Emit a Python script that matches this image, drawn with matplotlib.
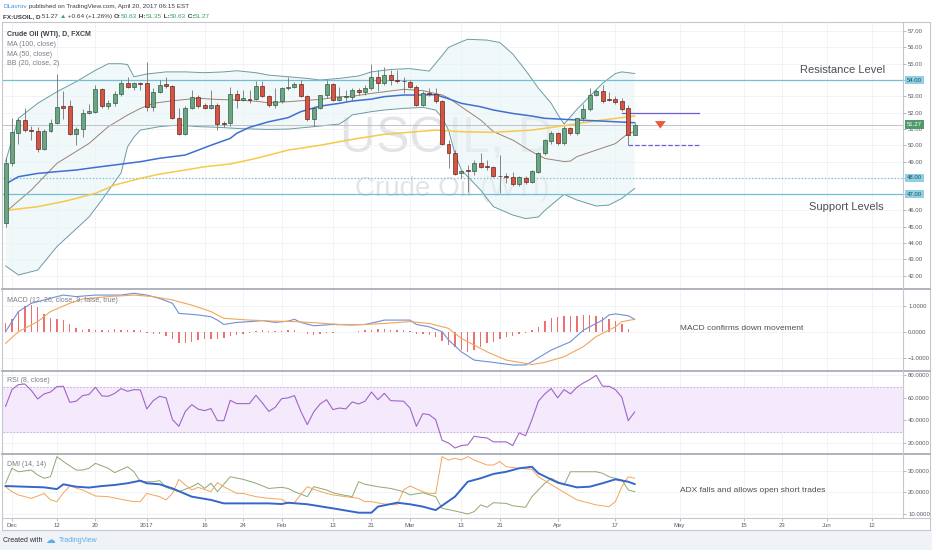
import numpy as np
import matplotlib.pyplot as plt
from matplotlib.lines import Line2D
from matplotlib.patches import Rectangle

plt.rcParams['font.family'] = ['Liberation Sans', 'DejaVu Sans']

W, H = 932, 550

# === Daily candles FX:USOIL, Nov 30 2016 -> Apr 20 2017 (bar index 0..98) ===
opens = [45.20, 48.90, 50.77, 51.55, 50.93, 50.87, 49.75, 50.90, 51.34, 52.40,
         52.40, 50.70, 51.00, 51.96, 52.06, 53.43, 52.40, 52.57, 53.14, 53.80,
         53.60, 53.80, 53.80, 52.36, 53.28, 53.73, 53.63, 51.70, 50.70, 52.28,
         52.98, 52.45, 52.30, 52.45, 51.34, 51.34, 53.14, 52.77, 52.80, 52.83,
         53.63, 53.04, 52.47, 52.73, 53.49, 53.60, 53.75, 53.04, 51.60, 52.30,
         53.06, 53.73, 52.77, 52.95, 52.98, 53.39, 53.28, 53.49, 54.16, 53.80,
         54.30, 54.00, 53.97, 53.90, 53.60, 52.47, 53.20, 53.12, 52.73, 50.10,
         49.54, 48.27, 48.48, 48.44, 48.93, 48.72, 48.64, 48.12, 48.10, 48.07,
         47.62, 48.01, 47.76, 48.38, 49.54, 50.28, 50.73, 50.16, 51.04, 50.73,
         51.65, 52.22, 53.08, 53.30, 52.85, 52.85, 52.70, 52.26, 50.63]
highs = [49.30, 51.70, 51.70, 52.30, 51.20, 51.10, 51.00, 51.60, 54.40, 53.35,
         52.80, 51.10, 52.20, 52.50, 53.70, 53.50, 52.80, 53.30, 54.00, 54.20,
         53.90, 53.90, 55.10, 53.50, 54.00, 54.20, 53.70, 52.30, 52.40, 53.40,
         53.10, 52.60, 53.40, 52.60, 51.50, 53.55, 53.40, 53.40, 53.40, 53.95,
         53.95, 53.10, 53.50, 53.60, 54.20, 53.90, 54.00, 53.10, 52.40, 53.10,
         54.00, 53.80, 53.60, 53.40, 53.50, 53.50, 53.70, 55.00, 54.60, 54.80,
         54.60, 54.60, 54.20, 54.00, 53.70, 53.30, 53.50, 53.50, 52.80, 50.30,
         49.70, 48.45, 48.80, 49.10, 49.55, 49.10, 48.70, 49.40, 48.30, 48.38,
         48.10, 48.10, 48.50, 49.60, 50.40, 50.90, 50.80, 51.20, 51.10, 51.70,
         52.50, 53.50, 53.45, 53.70, 53.25, 53.00, 52.90, 52.45, 51.35]
lows = [45.00, 48.70, 50.10, 50.80, 50.30, 49.60, 49.70, 50.80, 51.30, 51.60,
        50.60, 50.00, 50.50, 51.90, 52.00, 52.30, 52.20, 52.40, 53.00, 53.50,
        53.40, 53.40, 52.10, 52.10, 53.20, 53.50, 51.60, 50.60, 50.60, 52.20,
        52.30, 52.20, 52.20, 50.95, 51.10, 51.20, 52.26, 52.70, 52.60, 52.75,
        52.95, 52.35, 52.26, 52.60, 53.40, 53.50, 52.95, 51.50, 51.20, 52.20,
        52.90, 52.70, 52.70, 52.70, 52.70, 53.10, 53.10, 53.40, 53.30, 53.70,
        53.70, 53.80, 53.20, 53.50, 52.40, 52.40, 53.00, 52.60, 50.00, 48.58,
        48.20, 48.00, 47.15, 48.20, 48.60, 48.50, 48.05, 47.05, 47.70, 47.50,
        47.50, 47.60, 47.70, 48.30, 49.40, 50.10, 50.00, 50.00, 50.60, 50.60,
        51.50, 52.10, 53.00, 52.60, 52.70, 52.55, 52.10, 50.00, 50.63]
closes = [48.93, 50.83, 51.55, 50.93, 50.85, 49.75, 50.87, 51.34, 52.36, 52.30,
          50.70, 51.00, 51.96, 52.10, 53.43, 52.40, 52.57, 53.14, 53.80, 53.60,
          53.80, 53.73, 52.36, 53.28, 53.70, 53.65, 51.70, 50.70, 52.28, 52.98,
          52.40, 52.30, 52.45, 51.30, 51.30, 53.14, 52.77, 52.87, 52.77, 53.63,
          53.04, 52.47, 52.73, 53.49, 53.60, 53.75, 53.04, 51.60, 52.30, 53.06,
          53.73, 52.77, 52.94, 52.98, 53.39, 53.28, 53.49, 54.16, 53.80, 54.30,
          54.00, 53.97, 53.92, 53.59, 52.47, 53.18, 53.15, 52.73, 50.10, 49.54,
          48.25, 48.40, 48.40, 48.93, 48.68, 48.64, 48.11, 48.10, 48.05, 47.62,
          48.03, 47.76, 48.42, 49.54, 50.32, 50.73, 50.16, 51.04, 50.73, 51.65,
          52.20, 53.08, 53.30, 52.73, 52.80, 52.65, 52.20, 50.63, 51.27]

# overlays (bar index, value)
ma50_i = [0, 2, 5, 8, 11, 14, 17, 19, 21, 24, 28, 30, 32, 35, 36, 38, 41, 44, 46, 49,
          52, 54, 57, 59, 62, 64, 67, 69, 71, 74, 76, 79, 82, 84, 87, 90, 92, 95, 98]
ma50_v = [47.62, 48.07, 48.27, 48.38, 48.48, 48.64, 48.79, 48.89, 48.99, 49.20, 49.40,
          49.70, 50.00, 50.42, 50.73, 51.10, 51.44, 51.69, 52.06, 52.40, 52.57, 52.71,
          52.83, 52.98, 53.08, 53.08, 53.10, 52.85, 52.57, 52.36, 52.16, 51.95, 51.79,
          51.65, 51.59, 51.53, 51.50, 51.44, 51.38]
ma100_i = [0, 5, 9, 14, 17, 21, 24, 28, 31, 35, 39, 44, 49, 54, 59, 64, 67, 71, 76,
           82, 87, 92, 98]
ma100_v = [46.00, 46.23, 46.54, 47.05, 47.56, 47.97, 48.23, 48.48, 48.68, 48.85, 49.19,
           49.70, 50.00, 50.36, 50.67, 50.83, 50.93, 50.83, 50.79, 50.93, 51.20, 51.50,
           51.79]
bbu_i = [0, 2, 5, 8, 11, 14, 16, 18, 19, 20, 22, 25, 28, 31, 34, 36, 39, 41, 44, 47,
         49, 52, 55, 57, 60, 63, 66, 68, 69, 71, 72, 75, 77, 79, 81, 83, 85, 86, 87,
         89, 91, 93, 95, 96, 98]
bbu_v = [49.00, 51.65, 52.57, 53.28, 53.90, 54.60, 55.00, 55.00, 54.95, 54.20, 54.37,
         54.50, 54.50, 54.45, 54.50, 54.57, 54.45, 54.30, 54.20, 54.10, 54.00, 54.10,
         54.25, 54.50, 54.65, 54.70, 54.55, 55.50, 56.00, 56.35, 56.50, 56.45, 56.30,
         55.60, 54.60, 53.50, 52.57, 51.90, 51.30, 52.20, 53.00, 53.80, 54.40, 54.50,
         54.40]
bbl_i = [0, 2, 5, 8, 13, 15, 18, 19, 20, 21, 24, 27, 30, 33, 36, 39, 41, 44, 47, 49,
         52, 53, 54, 57, 59, 62, 65, 67, 68, 69, 70, 71, 74, 76, 79, 81, 83, 84, 87,
         89, 92, 94, 96, 98]
bbl_v = [42.60, 42.04, 42.34, 43.78, 45.60, 46.64, 48.30, 49.90, 50.50, 50.93, 51.14,
         51.24, 51.14, 51.10, 51.03, 50.99, 50.97, 50.99, 51.10, 51.18, 51.30, 51.55,
         51.86, 52.06, 52.16, 52.26, 52.32, 52.16, 51.70, 50.93, 49.50, 48.48, 47.25,
         46.23, 45.72, 45.50, 45.60, 46.00, 46.99, 46.64, 46.27, 46.33, 46.74, 47.35]
bbm_i = [0, 4, 8, 13, 16, 19, 21, 23, 26, 30, 33, 36, 39, 41, 44, 46, 49, 52, 54, 57,
         59, 62, 65, 68, 69, 71, 74, 76, 79, 82, 84, 87, 88, 89, 92, 95, 97, 98]
bbm_v = [45.90, 47.25, 48.89, 50.11, 51.14, 51.85, 52.26, 52.57, 52.73, 52.88, 52.81,
         52.77, 52.70, 52.60, 52.67, 52.73, 52.81, 52.98, 53.00, 53.18, 53.28, 53.43,
         53.35, 53.08, 52.90, 52.36, 51.55, 50.83, 50.32, 49.60, 49.19, 49.00, 49.03,
         49.30, 49.70, 50.10, 50.73, 50.83]

sr_levels = [54.0, 48.0, 47.0]
sr_styles = ['-', ':', '-']
target_levels = [52.0, 50.0]
target_start = [96, 97]
target_end = [108, 108]
target_styles = ['-', '--']
arrow_bar = 102

# MACD (12, 26, close, 9)
macd_i = [0, 2, 4, 6, 8, 9, 11, 14, 18, 20, 22, 24, 26, 27, 30, 32, 33, 34, 36, 38,
          40, 42, 44, 45, 46, 48, 51, 54, 56, 58, 59, 63, 64, 66, 68, 69, 71, 73, 76,
          79, 81, 82, 85, 88, 90, 93, 94, 95, 97, 98]
macd_v = [0.00, 0.78, 1.10, 1.23, 1.36, 1.42, 1.36, 1.42, 1.42, 1.49, 1.42, 1.29, 1.10,
          0.71, 0.65, 0.58, 0.45, 0.28, 0.36, 0.39, 0.43, 0.36, 0.41, 0.48, 0.36, 0.23,
          0.28, 0.26, 0.28, 0.39, 0.45, 0.45, 0.28, 0.19, 0.00, -0.32, -0.78, -1.10,
          -1.19, -1.29, -1.29, -1.16, -0.71, -0.39, 0.06, 0.45, 0.65, 0.69, 0.62, 0.48]
sig_i = [0, 2, 5, 7, 10, 12, 16, 20, 23, 26, 29, 32, 34, 38, 42, 45, 48, 52, 56, 59,
         63, 66, 69, 71, 75, 78, 82, 84, 87, 90, 92, 95, 96, 98]
sig_v = [-0.45, 0.00, 0.39, 0.78, 1.10, 1.27, 1.36, 1.42, 1.36, 1.23, 1.03, 0.78, 0.52,
         0.45, 0.41, 0.39, 0.35, 0.28, 0.28, 0.32, 0.39, 0.32, 0.13, -0.26, -0.78,
         -1.10, -1.27, -1.19, -0.97, -0.58, -0.19, 0.19, 0.39, 0.48]
hist = [0.32, 0.50, 0.78, 1.00, 1.05, 0.95, 0.70, 0.55, 0.50, 0.45,
        0.30, 0.15, 0.08, 0.09, 0.07, 0.06, 0.08, 0.10, 0.08, 0.07,
        0.06, 0.05, -0.06, -0.08, -0.10, -0.15, -0.30, -0.45, -0.42, -0.38,
        -0.33, -0.30, -0.28, -0.30, -0.25, -0.15, -0.12, -0.08, -0.05, 0.03,
        0.05, 0.04, 0.03, 0.04, 0.05, 0.06, -0.02, -0.10, -0.12, -0.10,
        -0.06, -0.05, -0.03, -0.02, -0.02, 0.02, 0.05, 0.08, 0.10, 0.09,
        0.08, 0.06, 0.05, 0.02, -0.08, -0.10, -0.13, -0.20, -0.35, -0.50,
        -0.60, -0.72, -0.78, -0.72, -0.60, -0.45, -0.38, -0.28, -0.22, -0.15,
        -0.10, -0.05, 0.05, 0.20, 0.40, 0.55, 0.58, 0.60, 0.62, 0.62,
        0.64, 0.65, 0.62, 0.58, 0.50, 0.42, 0.28, 0.10, -0.03]

# RSI (8, close)
rsi = [52.5, 67.3, 71.7, 72.3, 66.7, 59.0, 63.5, 65.2, 70.0, 70.3,
       56.0, 57.0, 62.0, 63.0, 69.4, 61.7, 61.4, 64.0, 68.2, 65.8,
       67.3, 67.0, 50.2, 57.5, 61.4, 60.0, 40.7, 34.8, 48.0, 54.0,
       50.0, 48.7, 50.5, 39.8, 39.8, 57.8, 54.9, 54.9, 54.9, 62.3,
       55.5, 48.0, 51.6, 59.3, 60.0, 62.0, 48.0, 36.3, 47.5, 54.6,
       58.4, 49.6, 51.0, 50.2, 56.4, 54.6, 57.0, 65.2, 58.4, 64.0,
       57.5, 57.3, 57.0, 51.0, 34.8, 46.0, 45.1, 40.7, 22.4, 20.0,
       15.6, 17.7, 18.3, 26.0, 25.0, 24.5, 21.0, 21.0, 21.0, 17.7,
       28.9, 26.5, 40.7, 57.0, 63.5, 68.2, 60.0, 67.3, 63.5, 69.4,
       73.2, 76.2, 80.0, 70.3, 70.3, 67.3, 60.5, 39.8, 47.5]

# DMI (14, 14)
adx_i = [0, 3, 6, 8, 9, 11, 13, 15, 17, 19, 21, 22, 24, 26, 29, 32, 34, 38, 41, 43,
         44, 47, 51, 55, 57, 58, 61, 63, 65, 67, 70, 72, 74, 76, 78, 80, 82, 83, 86,
         89, 91, 93, 95, 97, 98]
adx_v = [22.9, 22.6, 22.3, 21.5, 23.7, 22.6, 22.2, 22.9, 23.4, 24.2, 25.4, 24.2, 23.7,
         21.8, 18.0, 16.5, 14.9, 14.9, 14.9, 14.6, 15.2, 14.5, 12.6, 10.6, 10.6, 13.4,
         15.2, 14.5, 13.4, 11.8, 18.0, 24.9, 26.5, 28.5, 29.5, 31.1, 31.8, 28.8, 24.5,
         22.3, 22.6, 24.2, 26.0, 24.9, 23.8]
pdi_i = [0, 1, 2, 4, 5, 6, 7, 8, 9, 11, 12, 13, 14, 16, 17, 19, 20, 21, 23, 24, 25,
         27, 29, 30, 31, 32, 33, 35, 37, 39, 41, 43, 44, 45, 47, 48, 50, 51, 52, 54,
         55, 56, 58, 60, 62, 63, 65, 67, 68, 70, 72, 73, 74, 75, 76, 78, 79, 81, 82,
         84, 85, 87, 88, 89, 90, 92, 93, 94, 96, 97, 98]
pdi_v = [24.2, 31.1, 29.5, 30.3, 28.0, 26.5, 27.2, 36.5, 34.2, 30.3, 30.3, 31.1, 33.4,
         31.1, 29.1, 31.8, 29.5, 24.9, 24.9, 25.4, 22.3, 20.3, 22.6, 24.2, 21.8, 24.2,
         20.3, 27.2, 26.0, 24.2, 21.8, 22.3, 21.8, 20.3, 18.0, 22.6, 21.1, 19.8, 19.1,
         18.0, 24.9, 23.7, 22.6, 21.8, 20.3, 18.8, 19.8, 18.0, 12.6, 11.4, 10.0, 11.1,
         14.2, 13.1, 15.2, 14.9, 13.8, 13.1, 18.0, 24.2, 26.5, 23.4, 29.5, 29.5, 29.5,
         29.5, 28.8, 27.2, 25.7, 21.1, 20.3]
mdi_i = [0, 1, 2, 4, 5, 6, 7, 8, 9, 10, 12, 14, 16, 18, 20, 21, 22, 24, 25, 26, 27,
         28, 29, 30, 32, 33, 34, 36, 37, 39, 41, 43, 44, 45, 46, 47, 48, 50, 51, 53,
         55, 56, 57, 59, 61, 62, 63, 65, 66, 67, 68, 69, 70, 71, 72, 73, 75, 76, 77,
         78, 80, 82, 83, 86, 89, 92, 94, 95, 96, 97, 98]
mdi_v = [22.6, 20.3, 18.8, 17.2, 18.3, 19.5, 16.5, 15.7, 19.8, 22.9, 21.1, 18.3, 18.0,
         16.8, 15.7, 15.7, 19.5, 18.0, 16.5, 19.5, 26.0, 23.4, 21.1, 22.3, 20.3, 24.5,
         22.6, 19.5, 19.5, 18.0, 17.2, 16.8, 14.9, 15.2, 19.0, 22.6, 21.4, 19.5, 18.8,
         18.0, 17.2, 15.7, 15.7, 14.6, 14.2, 21.1, 22.9, 20.3, 19.5, 19.5, 36.5, 34.9,
         35.7, 35.0, 36.5, 34.9, 32.6, 32.6, 34.2, 31.8, 31.1, 30.6, 27.2, 21.8, 16.5,
         14.2, 13.4, 15.7, 22.6, 27.2, 26.5]

# time axis: bar index of each label
tick_bars = [1, 8, 14, 22, 31, 37, 43, 51, 57, 63, 71, 77, 86, 95, 105, 115, 121, 128, 135]
tick_text = ['Dec', '12', '20', '2017', '16', '24', 'Feb', '13', '21', 'Mar', '13', '21',
             'Apr', '17', 'May', '15', '23', 'Jun', '12']

# === figure layout (pixel helpers) ===
fig = plt.figure(figsize=(W / 100, H / 100), dpi=100)
fig.patch.set_facecolor('white')

def fx(px):
    return px / W

def fy(py):
    return 1 - py / H

LEFT, RIGHT = 3, 903
XLIM = (-0.4, 139.8)
GRID = '#eff1f4'
TXT = '#555a63'

def pane(top, bottom, ylim, yticks, fmt):
    a = fig.add_axes([fx(LEFT), fy(bottom), fx(RIGHT - LEFT), (bottom - top) / H])
    a.set_xlim(*XLIM)
    a.set_ylim(*ylim)
    for s in a.spines.values():
        s.set_visible(False)
    a.set_xticks(tick_bars)
    a.set_yticks(yticks)
    a.yaxis.set_major_formatter(fmt)
    a.yaxis.tick_right()
    a.tick_params(axis='y', length=2.5, width=0.5, color='#9aa0a8', labelsize=4.3,
                  labelcolor=TXT, pad=1.2)
    a.tick_params(axis='x', length=0, labelbottom=False)
    a.grid(True, color=GRID, lw=0.6)
    a.set_axisbelow(True)
    return a

# --- main price pane ---
ax = pane(22, 289, (41.18, 57.56), range(42, 58), '{x:.2f}')

ax.text(0.493, 0.56, 'USOIL, D', transform=ax.transAxes, ha='center', va='center',
        fontsize=36, color='#e3e4e7', zorder=0.5)
ax.text(0.499, 0.375, 'Crude Oil (WTI)', transform=ax.transAxes, ha='center',
        va='center', fontsize=20, color='#e3e4e7', zorder=0.5)

ax.fill(np.r_[bbu_i, bbl_i[::-1]], np.r_[bbu_v, bbl_v[::-1]], color='#e6f3f6',
        alpha=0.55, lw=0, zorder=1)
ax.plot(bbu_i, bbu_v, color='#6a9da2', lw=0.7, zorder=2)
ax.plot(bbl_i, bbl_v, color='#6a9da2', lw=0.7, zorder=2)
ax.plot(bbm_i, bbm_v, color='#9c8273', lw=0.7, zorder=2)
ax.plot(ma100_i, ma100_v, color='#f7c948', lw=1.1, zorder=3)
ax.plot(ma50_i, ma50_v, color='#3f6fd0', lw=1.1, zorder=3)

for lvl, ls in zip(sr_levels, sr_styles):
    ax.axhline(lvl, color='#72bfd3', lw=0.9, ls=ls, zorder=2.5)
ax.axhline(closes[-1], color='#b5bac1', lw=0.6, zorder=2.4)
for lvl, x0, x1, ls in zip(target_levels, target_start, target_end, target_styles):
    ax.plot([x0, x1], [lvl, lvl], color='#6a5fd8', lw=0.9, ls=ls, zorder=3)

idx = np.arange(len(closes))
o = np.array(opens)
c = np.array(closes)
up = c >= o
ax.vlines(idx, lows, highs, color='#737375', lw=0.6, zorder=4)
ax.bar(idx, np.maximum(np.abs(c - o), 0.04), bottom=np.minimum(o, c), width=0.62,
       color=np.where(up, '#6ba583', '#d75442'),
       edgecolor=np.where(up, '#225437', '#5b1a13'), lw=0.45, zorder=5)

ax.annotate('', xy=(arrow_bar, 50.85), xytext=(arrow_bar, 51.6),
            arrowprops=dict(arrowstyle='simple,head_width=1.3,head_length=0.9,tail_width=0.6',
                            fc='#e9573f', ec='#e9573f', lw=0, mutation_scale=6), zorder=6)

ax.text(0.933, 0.82, 'Resistance Level', transform=ax.transAxes, ha='center',
        va='center', fontsize=8, color='#4d4f55')
ax.text(0.937, 0.307, 'Support Levels', transform=ax.transAxes, ha='center',
        va='center', fontsize=8, color='#4d4f55')

ytr = ax.get_yaxis_transform()
for val, fc, tc in [(54.0, '#8fd0e2', '#1f4d5b'), (48.0, '#8fd0e2', '#1f4d5b'),
                    (47.0, '#8fd0e2', '#1f4d5b'), (closes[-1], '#4f9a69', 'white')]:
    ax.text(1.0045, val, f'{val:.2f}', transform=ytr, ha='left', va='center',
            fontsize=4.3, color=tc, zorder=10, clip_on=False,
            bbox=dict(boxstyle='square,pad=0.3', fc=fc, ec='none'))

# --- MACD pane ---
ax2 = pane(289, 371, (-1.523, 1.655), [-1, 0, 1], '{x:.4f}')
ax2.bar(idx, hist, width=0.22, color='#ec7070', zorder=2)
ax2.plot(macd_i, macd_v, color='#6f8fd8', lw=0.8, zorder=3)
ax2.plot(sig_i, sig_v, color='#f2a65a', lw=0.8, zorder=3)
fig.text(fx(680), fy(328), 'MACD confirms down movement', ha='left', va='center',
         fontsize=6, color='#4d4f55')

# --- RSI pane ---
ax3 = pane(371, 454, (10.25, 83.8), [20, 40, 60, 80], '{x:.4f}')
ax3.axhspan(30, 70, color='#f4eafc', zorder=0.8)
for lvl in (70, 30):
    ax3.axhline(lvl, color='#bfaecb', lw=0.6, ls=(0, (2, 2)), zorder=1)
ax3.plot(idx, rsi, color='#a065c8', lw=0.8, zorder=3)

# --- DMI pane ---
ax4 = pane(454, 518, (8.15, 37.7), [10, 20, 30], '{x:.4f}')
ax4.plot(pdi_i, pdi_v, color='#8fa873', lw=0.7, zorder=3)
ax4.plot(mdi_i, mdi_v, color='#f2a65a', lw=0.7, zorder=3)
ax4.plot(adx_i, adx_v, color='#3566c9', lw=1.4, zorder=4)
ax4.set_xticklabels(tick_text)
ax4.tick_params(axis='x', length=2, width=0.5, color='#9aa0a8', labelbottom=True,
                labelsize=4.3, labelcolor=TXT, pad=1.5)
fig.text(fx(680), fy(490), 'ADX falls and allows open short trades', ha='left',
         va='center', fontsize=6, color='#4d4f55')

# pane legends
legend_rows = [('Crude Oil (WTI), D, FXCM', 35, '#3d4047'), ('MA (100, close)', 44, '#7a7e86'),
               ('MA (50, close)', 54, '#7a7e86'), ('BB (20, close, 2)', 63.5, '#7a7e86'),
               ('MACD (12, 26, close, 9, false, true)', 300, '#7a7e86'),
               ('RSI (8, close)', 381, '#7a7e86'), ('DMI (14, 14)', 464, '#7a7e86')]
for s, py, col in legend_rows:
    fig.text(fx(7), fy(py), s, ha='left', va='center', fontsize=5, color=col,
             fontweight='bold' if py == 35 else 'normal')

# frame, separators and price-scale line
frame = dict(transform=fig.transFigure, color='#c3c7ce', lw=0.8)
fig.add_artist(Rectangle((fx(2), fy(530)), fx(928), 508 / H, fill=False, ec='#c3c7ce',
                         lw=0.8, transform=fig.transFigure))
for py in (289, 371, 454):
    fig.add_artist(Line2D([fx(2), fx(930)], [fy(py), fy(py)], transform=fig.transFigure,
                          color='#a9adb5', lw=1.3))
fig.add_artist(Line2D([fx(2), fx(930)], [fy(518), fy(518)], **frame))
fig.add_artist(Line2D([fx(903), fx(903)], [fy(22), fy(518)], **frame))

# footer strip
fig.add_artist(Rectangle((0, 0), 1, 20 / H, transform=fig.transFigure, fc='#eff2f6',
                         ec='none', zorder=-1))
fig.text(fx(3), fy(540), 'Created with', fontsize=5, color='#2b2e33', va='center')
fig.text(fx(45), fy(540), '\u2601', fontsize=7, color='#59b0e8', va='center',
         family=['DejaVu Sans'])
fig.text(fx(59), fy(540), 'TradingView', fontsize=5, color='#59b0e8', va='center')

# header lines
hdr = fig.add_axes([0, 0, 1, 1], zorder=-2)
hdr.set_axis_off()
GREEN = '#3aa35a'
DARK = '#3a3d44'

def chain(parts, px, py):
    prev = hdr.text(fx(px), fy(py), parts[0][0], color=parts[0][1], fontweight=parts[0][2],
                    fontsize=4.6, va='bottom', ha='left')
    for s, col, wt in parts[1:]:
        prev = hdr.annotate(s, xy=(1, 0), xycoords=prev, va='bottom', ha='left',
                            color=col, fontweight=wt, fontsize=4.6)

chain([('DLavrov', '#3b8fe0', 'normal'),
       (' published on TradingView.com, April 20, 2017 06:15 EST', DARK, 'normal')], 3, 9)
chain([('FX:USOIL, D', DARK, 'bold'), (' 51.27 ', DARK, 'normal'),
       ('\u25b2', GREEN, 'normal'), (' +0.64 (+1.26%) ', DARK, 'normal'),
       ('O:', DARK, 'bold'), ('50.63', GREEN, 'normal'), (' H:', DARK, 'bold'),
       ('51.35', GREEN, 'normal'), (' L:', DARK, 'bold'), ('50.63', GREEN, 'normal'),
       (' C:', DARK, 'bold'), ('51.27', GREEN, 'normal')], 3, 19)

fig.savefig('out.png', dpi=100)
